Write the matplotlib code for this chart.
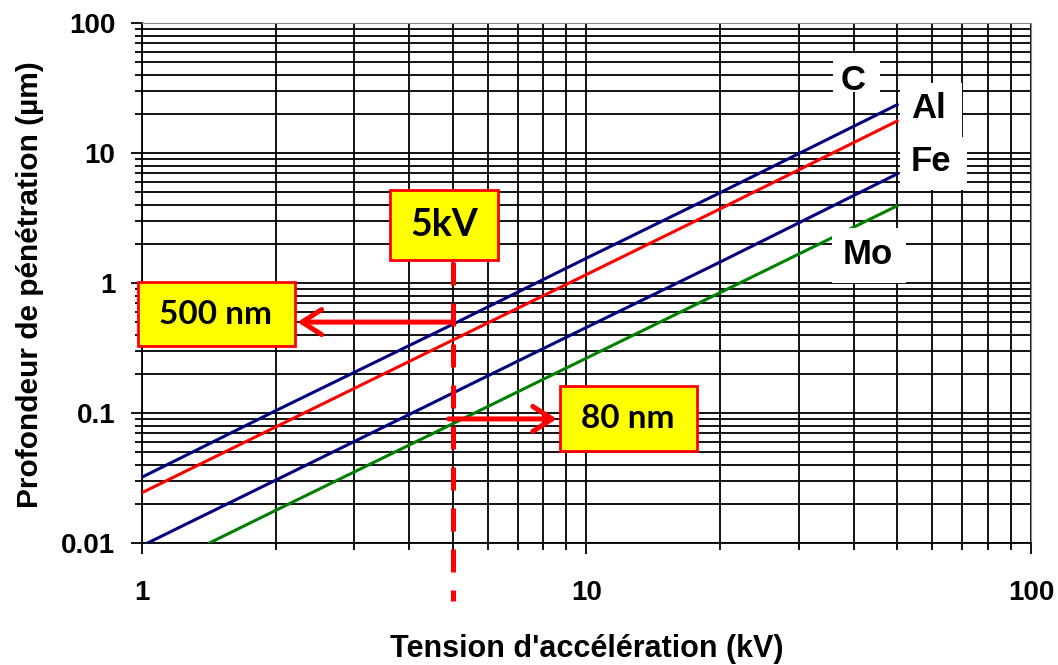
import matplotlib.pyplot as plt
from matplotlib.patches import Rectangle
from matplotlib.ticker import LogLocator, FixedFormatter, FixedLocator, NullFormatter

plt.rcParams['font.family'] = ['Liberation Sans', 'DejaVu Sans']

kv = [1, 2, 5, 10, 20, 50]
depth_C = [0.032, 0.104, 0.48, 1.55, 4.95, 23.5]
depth_Al = [0.0243, 0.078, 0.363, 1.16, 3.72, 17.6]
depth_Fe = [0.0095, 0.0304, 0.142, 0.455, 1.45, 6.9]
kv_Mo = [1.42, 2, 5, 10, 20, 50]
depth_Mo = [0.01, 0.0178, 0.0825, 0.264, 0.844, 3.92]

x_ticks = [1, 10, 100]
x_labels = ['1', '10', '100']
y_ticks = [0.01, 0.1, 1, 10, 100]
y_labels = ['0.01', '0.1', '1', '10', '100']

fig = plt.figure(figsize=(10.58, 6.65), dpi=100)
ax = fig.add_axes([0.134, 0.1835, 0.8405, 0.782])
ax.set_xscale('log')
ax.set_yscale('log')
ax.set_xlim(1, 100)
ax.set_ylim(0.01, 100)

ax.plot(kv, depth_C, color='#000080', lw=2.2, zorder=3)
ax.plot(kv, depth_Al, color='#ff0000', lw=2.2, zorder=3)
ax.plot(kv, depth_Fe, color='#000080', lw=2.2, zorder=3)
ax.plot(kv_Mo, depth_Mo, color='#008000', lw=2.2, zorder=3)

ax.xaxis.set_major_locator(FixedLocator(x_ticks))
ax.xaxis.set_major_formatter(FixedFormatter(x_labels))
ax.xaxis.set_minor_locator(LogLocator(base=10, subs=range(2, 10)))
ax.xaxis.set_minor_formatter(NullFormatter())
ax.yaxis.set_major_locator(FixedLocator(y_ticks))
ax.yaxis.set_major_formatter(FixedFormatter(y_labels))
ax.yaxis.set_minor_locator(LogLocator(base=10, subs=range(2, 10)))
ax.yaxis.set_minor_formatter(NullFormatter())

ax.grid(which='both', color='black', lw=1.3, zorder=1)
ax.tick_params(which='major', direction='out', length=8, width=1.3, labelsize=20)
ax.tick_params(which='minor', direction='out', length=5, width=1.3)
ax.tick_params(axis='x', which='major', pad=19)
ax.tick_params(axis='y', which='major', pad=11)
for lab in ax.get_xticklabels() + ax.get_yticklabels():
    lab.set_fontweight('bold')
for s in ['top', 'right']:
    ax.spines[s].set_color('#888888')
for s in ['left', 'bottom']:
    ax.spines[s].set_color('black')
    ax.spines[s].set_linewidth(1.3)

ax.set_xlabel("Tension d'accélération (kV)", fontsize=22, fontweight='bold', labelpad=20)
ax.set_ylabel("Profondeur de pénétration (µm)", fontsize=21.5, fontweight='bold')
ax.yaxis.set_label_coords(-0.110, 0.496)

# element labels: white boxes (axes fraction) and text centre
labels = [('C', (0.777, 0.867, 0.053, 0.075), (0.800, 0.89)),
          ('Al', (0.8526, 0.781, 0.0697, 0.104), (0.885, 0.836)),
          ('Fe', (0.8526, 0.679, 0.0754, 0.102), (0.887, 0.734)),
          ('Mo', (0.776, 0.500, 0.0832, 0.106), (0.816, 0.554))]
for name, (bx, by, bw, bh), (tx, ty) in labels:
    ax.add_patch(Rectangle((bx, by), bw, bh, transform=ax.transAxes, fc='white',
                           ec='none', zorder=5, clip_on=False))
    ax.text(tx, ty, name, transform=ax.transAxes, fontsize=25, fontweight='bold',
            ha='center', va='center', zorder=6)

# 5 kV guide
ax.plot([5, 5], [1.45, 0.0036], color='red', lw=3.6, ls=(0, (4.6, 3.6)),
        clip_on=False, zorder=4)
arrow = dict(arrowstyle='->,head_length=1.4,head_width=0.9', color='red', lw=3.6,
             shrinkA=0, shrinkB=0)
ax.annotate('', xy=(2.24, 0.5), xytext=(5, 0.5), arrowprops=arrow, zorder=4)
ax.annotate('', xy=(8.58, 0.09), xytext=(4.9, 0.09), arrowprops=arrow, zorder=4)

boxes = [('5kV', 27, (0.279, 0.544, 0.1215, 0.1346), (0.340, 0.6115)),
         ('500 nm', 24, (-0.0045, 0.379, 0.1766, 0.123), (0.083, 0.44)),
         ('80 nm', 24, (0.470, 0.177, 0.154, 0.125), (0.547, 0.24))]
for txt, fs, (bx, by, bw, bh), (tx, ty) in boxes:
    ax.add_patch(Rectangle((bx, by), bw, bh, transform=ax.transAxes, fc='#ffff00',
                           ec='red', lw=2, zorder=6, clip_on=False))
    ax.text(tx, ty, txt, transform=ax.transAxes, fontsize=fs, fontweight='bold',
            family=['Lato', 'DejaVu Sans'], ha='center', va='center', zorder=7)

fig.savefig('out.png', dpi=100)
